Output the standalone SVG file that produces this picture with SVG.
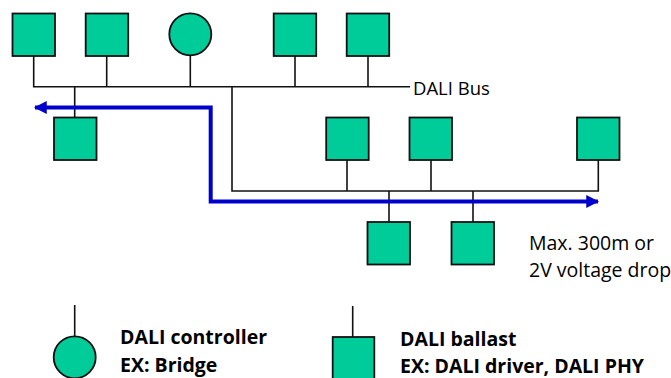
<svg xmlns="http://www.w3.org/2000/svg" width="671" height="378" viewBox="0 0 671 378">
<defs>
<style>
.n{fill:#00CC99;stroke:#111;stroke-width:1.8}
.w{fill:none;stroke:#111;stroke-width:1.6}
.b{fill:none;stroke:#0000CC;stroke-width:4}
.t{font-family:"Open Sans","Noto Sans",sans-serif;fill:#000}
.tb{font-family:"Open Sans","Noto Sans",sans-serif;font-weight:bold;fill:#000;font-size:19.5px}
</style>
<marker id="ah" viewBox="0 0 12 12" refX="11" refY="6" markerWidth="3.2" markerHeight="3.2" orient="auto-start-reverse" markerUnits="strokeWidth">
<path d="M0,0 L12,6 L0,12 Z" fill="#0000CC"/>
</marker>
</defs>
<rect width="671" height="378" fill="#fff"/>
<g id="connectors">
<path class="w" d="M33.7,56 V86.7 H410"/>
<path class="w" d="M106.7,56 V86.7"/>
<path class="w" d="M190.3,55.3 V86.7"/>
<path class="w" d="M295,56 V86.7"/>
<path class="w" d="M368,56 V86.7"/>
<path class="w" d="M74.7,86.7 V117.5"/>
<path class="w" d="M232,86.7 V191 H598.3 V160"/>
<path class="w" d="M347,160 V191"/>
<path class="w" d="M431,160 V191"/>
<path class="w" d="M389,191 V222"/>
<path class="w" d="M473,191 V222"/>
<path class="b" d="M598,201.5 H210.7 V107.5 H35" marker-start="url(#ah)" marker-end="url(#ah)"/>
<path class="w" d="M74.7,305 V336"/>
<path class="w" d="M352.7,306 V337"/>
</g>
<g id="ballast1"><rect class="n" x="12.5" y="13.5" width="42.5" height="42.5"/></g>
<g id="ballast2"><rect class="n" x="85.7" y="13.5" width="42.5" height="42.5"/></g>
<g id="controller1"><circle class="n" cx="190.3" cy="34.3" r="21"/></g>
<g id="ballast3"><rect class="n" x="273.7" y="13.5" width="42.5" height="42.5"/></g>
<g id="ballast4"><rect class="n" x="346.7" y="13.5" width="42.5" height="42.5"/></g>
<g id="ballast5"><rect class="n" x="54" y="117.5" width="42.5" height="42.5"/></g>
<g id="ballast6"><rect class="n" x="326.2" y="117.5" width="42.5" height="42.5"/></g>
<g id="ballast7"><rect class="n" x="409.5" y="117.5" width="42.5" height="42.5"/></g>
<g id="ballast8"><rect class="n" x="577" y="117.5" width="42.5" height="42.5"/></g>
<g id="ballast9"><rect class="n" x="367.5" y="222" width="42.5" height="42.5"/></g>
<g id="ballast10"><rect class="n" x="451.5" y="222" width="42.5" height="42.5"/></g>
<g id="bus-label"><text class="t" x="413" y="95" font-size="18.5">DALI Bus</text></g>
<g id="distance-label">
<text class="t" x="529" y="250" font-size="19.5">Max. 300m or</text>
<text class="t" x="529" y="276.5" font-size="19.5">2V voltage drop</text>
</g>
<g id="legend-controller">
<circle class="n" cx="74.7" cy="357.3" r="21"/>
<text class="tb" x="120" y="344.3">DALI controller</text>
<text class="tb" x="120" y="371.7">EX: Bridge</text>
</g>
<g id="legend-ballast">
<rect class="n" x="332.7" y="337" width="41.6" height="50"/>
<text class="tb" x="400" y="345.7">DALI ballast</text>
<text class="tb" x="400" y="373.3">EX: DALI driver, DALI PHY</text>
</g>
</svg>
